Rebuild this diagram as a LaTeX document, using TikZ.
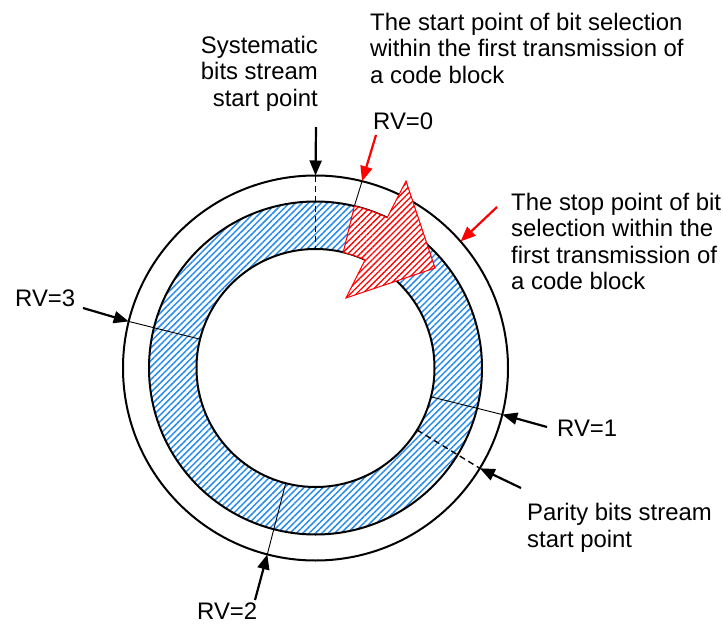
\documentclass[tikz,border=0pt]{standalone}
\usepackage{fontspec}
\setmainfont{Liberation Sans}
\usetikzlibrary{calc,patterns.meta,arrows.meta}
\definecolor{hatchblue}{RGB}{40,140,235}
\begin{document}
\begin{tikzpicture}[x=1pt,y=1pt,
  lbl/.style={inner sep=0pt, font=\fontsize{23.9}{26.6}\selectfont, align=left},
  ring/.style={line width=2pt},
  markline/.style={line width=0.9pt},
  dashline/.style={line width=1.4pt, dash pattern=on 6pt off 4pt},
  blkarrow/.style={line width=2.2pt, -{Triangle[length=15pt,width=12pt]}},
  redarrow/.style={line width=2.2pt, red, -{Triangle[length=15pt,width=12pt]}},
]
\useasboundingbox (0,0) rectangle (723,-626);
\coordinate (C) at (315.5,-368);
% ring hatch
\fill[pattern={Lines[angle=45,distance=4.5pt,line width=1.5pt]}, pattern color=hatchblue, even odd rule]
  (C) circle (166.5) (C) circle (119);
% circles
\draw[ring] (C) circle (192.5);
\draw[ring] (C) circle (166.5);
\draw[ring] (C) circle (119);
% points on circles
\coordinate (o90) at ($(C)+(90:192.5)$);
\coordinate (i90) at ($(C)+(90:119)$);
\coordinate (o166) at ($(C)+(166:192.5)$);
\coordinate (i166) at ($(C)+(166:119)$);
\coordinate (o-14) at ($(C)+(-14:192.5)$);
\coordinate (i-14) at ($(C)+(-14:119)$);
\coordinate (o-104) at ($(C)+(-104.5:192.5)$);
\coordinate (i-104) at ($(C)+(-104.5:119)$);
\coordinate (o-31) at ($(C)+(-31.4:192.5)$);
\coordinate (i-31) at ($(C)+(-31.4:119)$);
\coordinate (o76) at ($(C)+(76:192.5)$);
\coordinate (A) at ($(C)+(76.5:166.5)$);
\coordinate (o41) at ($(C)+(41.1:192.5)$);
% radial marks
\draw[dashline] (o90) -- (i90);
\draw[dashline] (i-31) -- (o-31);
\draw[markline] (o166) -- (i166);
\draw[markline] (o-14) -- (i-14);
\draw[markline] (o-104) -- (i-104);
\draw[markline] (o76) -- (A);
% red block arrow
\draw[red, line width=1pt, preaction={fill=white},
      pattern={Lines[angle=45,distance=4.3pt,line width=1.3pt]}, pattern color=red]
  (A) arc[start angle=76.5,end angle=64.5,radius=166.5]
  -- (406,-181) -- (435,-268) -- (346,-298)
  -- ($(C)+(65.4:119)$) arc[start angle=65.4,end angle=76.5,radius=119] -- cycle;
% labels (base anchor = baseline of last line)
\node[lbl, anchor=base west] (startTxt) at (370,-83.2) {The start point of bit selection\\within the first transmission of\\a code block};
\node[lbl, anchor=base east, align=right] (sysTxt) at (318,-106.5) {Systematic\\bits stream\\start point};
\node[lbl, anchor=base west] (rv0) at (373,-129) {RV=0};
\node[lbl, anchor=base west] (stopTxt) at (511,-289.8) {The stop point of bit\\selection within the\\first transmission of\\a code block};
\node[lbl, anchor=base west] (rv3) at (15,-306.6) {RV=3};
\node[lbl, anchor=base west] (rv1) at (557,-436.6) {RV=1};
\node[lbl, anchor=base west] (parTxt) at (527,-547.2) {Parity bits stream\\start point};
\node[lbl, anchor=base west] (rv2) at (197,-619.6) {RV=2};
% arrow tails
\coordinate (sysS) at (316,-127);
\coordinate (rv3S) at (83,-308);
\coordinate (rv1S) at (547,-427);
\coordinate (parS) at (521,-488);
\coordinate (rv2S) at (255,-600);
\coordinate (rv0S) at (376,-135);
\coordinate (stopS) at (497,-207);
\draw[blkarrow] (sysS) -- (o90);
\draw[blkarrow] (rv3S) -- (o166);
\draw[blkarrow] (rv1S) -- (o-14);
\draw[blkarrow] (parS) -- (o-31);
\draw[blkarrow] (rv2S) -- (o-104);
\draw[redarrow] (rv0S) -- (o76);
\draw[redarrow] (stopS) -- (o41);
\end{tikzpicture}
\end{document}
